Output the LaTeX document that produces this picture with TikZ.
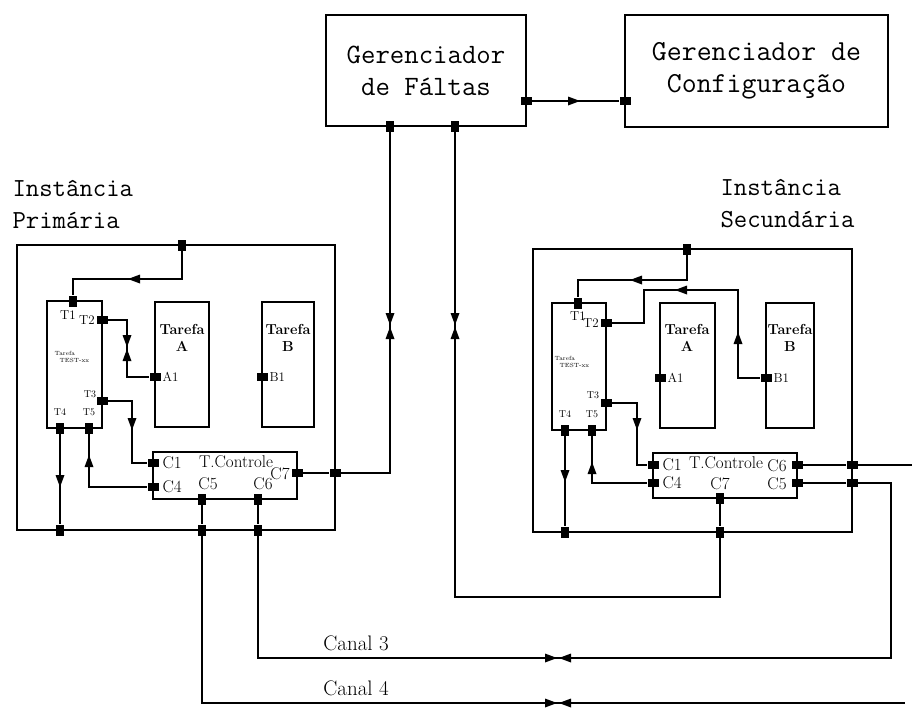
\documentclass[tikz,border=0pt]{standalone}
\newcommand\arrD[2]{\fill ({#1-4.5},{#2-12}) -- ({#1+4.5},{#2-12}) -- (#1,#2) -- cycle;}
\newcommand\arrU[2]{\fill ({#1-4.5},{#2+12}) -- ({#1+4.5},{#2+12}) -- (#1,#2) -- cycle;}
\newcommand\arrL[2]{\fill ({#1+12},{#2-4.5}) -- ({#1+12},{#2+4.5}) -- (#1,#2) -- cycle;}
\newcommand\arrR[2]{\fill ({#1-12},{#2-4.5}) -- ({#1-12},{#2+4.5}) -- (#1,#2) -- cycle;}
\begin{document}
\begin{tikzpicture}[x=1pt,y=-1pt,line width=1.1pt,
  box/.style={draw,inner sep=0pt},
  hport/.style={fill=black,minimum width=11pt,minimum height=8pt,inner sep=0pt},
  vport/.style={fill=black,minimum width=8pt,minimum height=11pt,inner sep=0pt},
  bigtxt/.style={font=\ttfamily\fontsize{28}{32}\selectfont,align=center},
  insttxt/.style={font=\ttfamily\fontsize{26}{32}\selectfont,align=left,anchor=west,inner sep=0pt},
  canaltxt/.style={font=\fontsize{21}{24}\selectfont,inner sep=0pt},
  tartxt/.style={font=\bfseries\fontsize{14.5}{17}\selectfont,align=center,inner sep=0pt},
  ctxt/.style={font=\fontsize{17}{19}\selectfont,inner sep=0pt},
  ttxt/.style={font=\fontsize{13}{15}\selectfont,inner sep=0pt},
  smtxt/.style={font=\fontsize{10}{11}\selectfont,inner sep=0pt},
  tiny/.style={font=\fontsize{6}{7.5}\selectfont,inner sep=0pt}]
\useasboundingbox (0,0) rectangle (912,720);

% ---------- managers ----------
\node[box,minimum width=200pt,minimum height=111pt,bigtxt] (gf) at (426,70.5) {Gerenciador\\de Fáltas};
\node[box,minimum width=263pt,minimum height=112pt,bigtxt,font=\ttfamily\fontsize{29}{32}\selectfont] (gc) at (756.5,71) {Gerenciador de\\Configuração};
\node[hport] (gfR) at (526,101) {};
\node[hport] (gcL) at (625,101) {};
\node[vport] (gfB1) at (390,126) {};
\node[vport] (gfB2) at (455,126) {};

% ---------- primary instance ----------
\node[insttxt] (pinst) at (12,204) {Instância\\Primária};
\node[box,minimum width=318pt,minimum height=285pt] (pbox) at (176,387.5) {};
\node[box,minimum width=55pt,minimum height=127pt] (ptt) at (74.5,364.5) {};
\node[box,minimum width=54pt,minimum height=125pt] (pta) at (182,364.5) {};
\node[box,minimum width=52pt,minimum height=125pt] (ptb) at (288,364.5) {};
\node[box,minimum width=144pt,minimum height=47pt] (ptc) at (225,475.5) {};
\node[tartxt] (ptaL) at (182,338) {Tarefa\\A};
\node[tartxt] (ptbL) at (288,338) {Tarefa\\B};
\node[tiny,align=left] (pttL) at (72,357) {Tarefa\\\ \ TEST-xx};

\node[vport] (pTop) at (182,245) {};
\node[vport] (pT1) at (73,301) {};
\node[hport] (pT2) at (102,320) {};
\node[hport] (pT3) at (102,401) {};
\node[vport] (pT4) at (60,428) {};
\node[vport] (pT5) at (89,428) {};
\node[hport] (pA1) at (155,377) {};
\node[hport] (pB1) at (262,377) {};
\node[hport] (pC1) at (153,463) {};
\node[hport] (pC4) at (153,487) {};
\node[vport] (pC5) at (202,499) {};
\node[vport] (pC6) at (258,499) {};
\node[hport] (pC7) at (297,473) {};
\node[hport] (pR) at (335,473) {};
\node[vport] (pBot1) at (60,530) {};
\node[vport] (pBot2) at (202,530) {};
\node[vport] (pBot3) at (258,530) {};

\node[ttxt] at (68,315) {T1};
\node[ttxt] at (87,320) {T2};
\node[smtxt] at (90,394) {T3};
\node[smtxt] at (60,412) {T4};
\node[smtxt] at (89,412) {T5};
\node[ttxt,anchor=west] at (162,377) {A1};
\node[ttxt,anchor=west] at (269,377) {B1};
\node[ctxt,anchor=west] at (162,463) {C1};
\node[ctxt] at (236,462) {T.Controle};
\node[ctxt,anchor=west] at (162,487) {C4};
\node[ctxt] at (208,484) {C5};
\node[ctxt] at (263,484) {C6};
\node[ctxt] at (280,474) {C7};

% ---------- secondary instance ----------
\node[insttxt] (sinst) at (720,204) {Instância\\Secundária};
\node[box,minimum width=319pt,minimum height=283pt] (sbox) at (692.5,390.5) {};
\node[box,minimum width=54pt,minimum height=127pt] (stt) at (579,366.5) {};
\node[box,minimum width=55pt,minimum height=125pt] (sta) at (687.5,365.5) {};
\node[box,minimum width=48pt,minimum height=125pt] (stb) at (790,365.5) {};
\node[box,minimum width=144pt,minimum height=45pt] (stc) at (725,475.5) {};
\node[tartxt] (staL) at (687,338) {Tarefa\\A};
\node[tartxt] (stbL) at (790,338) {Tarefa\\B};
\node[tiny,align=left] (sttL) at (572,362) {Tarefa\\\ \ TEST-xx};

\node[vport] (sTop) at (687,249) {};
\node[vport] (sT1) at (578,303) {};
\node[hport] (sT2) at (606,323) {};
\node[hport] (sT3) at (606,403) {};
\node[vport] (sT4) at (565,430) {};
\node[vport] (sT5) at (592,430) {};
\node[hport] (sA1) at (660,378) {};
\node[hport] (sB1) at (766,378) {};
\node[hport] (sC1) at (653,465) {};
\node[hport] (sC4) at (653,483) {};
\node[hport] (sC6) at (797,465) {};
\node[hport] (sC5) at (797,483) {};
\node[vport] (sC7) at (720,498) {};
\node[hport] (sR1) at (852,465) {};
\node[hport] (sR2) at (852,483) {};
\node[vport] (sBot1) at (565,532) {};
\node[vport] (sBot2) at (720,532) {};

\node[ttxt] at (578,316) {T1};
\node[ttxt] at (591,323) {T2};
\node[smtxt] at (593,395) {T3};
\node[smtxt] at (565,414) {T4};
\node[smtxt] at (592,414) {T5};
\node[ttxt,anchor=west] at (667,378) {A1};
\node[ttxt,anchor=west] at (773,378) {B1};
\node[ctxt,anchor=west] at (662,465) {C1};
\node[ctxt] at (726,463) {T.Controle};
\node[ctxt] at (777,466) {C6};
\node[ctxt,anchor=west] at (662,483) {C4};
\node[ctxt] at (720,484) {C7};
\node[ctxt] at (777,484) {C5};

% ---------- free ends ----------
\coordinate (eR) at (912,465);
\coordinate (c4end) at (905,703);

% ---------- connectors ----------
\draw (gfR) -- (gcL);
\arrR{580}{101}

\draw (gfB1) |- (pR);
\arrD{390}{325} \arrU{390}{327}
\draw (pC7) -- (pR);

\draw (gfB2) -- (455,597) -| (sBot2);
\arrD{455}{325} \arrU{455}{327}

% primary internal
\draw (pTop) |- (120,279) -| (pT1);
\arrL{128}{279}
\draw (pT2) -| (127,377) -- (pA1);
\arrD{127}{347} \arrU{127}{349}
\draw (pT3) -| (132,463) -- (pC1);
\arrD{132}{430}
\draw (pC4) -| (pT5);
\arrU{89}{455}
\draw (pT4) -- (pBot1);
\arrD{60}{487}
\draw (pC5) -- (pBot2);
\draw (pC6) -- (pBot3);

% secondary internal
\draw (sTop) |- (600,280) -| (sT1);
\arrL{630}{280}
\draw (sT2) -| (644,290) -| (738,378) -- (sB1);
\arrL{675}{290}
\arrU{738}{332}
\draw (sT3) -| (637,465) -- (sC1);
\arrD{637}{430}
\draw (sC4) -| (sT5);
\arrU{592}{462}
\draw (sT4) -- (sBot1);
\arrD{565}{482}
\draw (sC7) -- (sBot2);
\draw (sC6) -- (sR1) -- (eR);
\draw (sC5) -- (sR2);

% channels
\draw (pBot3) |- (891,658) |- (sR2);
\arrR{557}{658} \arrL{559}{658}
\node[canaltxt] (canal3) at (356,643) {Canal 3};

\draw (pBot2) |- (c4end);
\arrR{557}{703} \arrL{559}{703}
\node[canaltxt] (canal4) at (356,688) {Canal 4};
\end{tikzpicture}
\end{document}
